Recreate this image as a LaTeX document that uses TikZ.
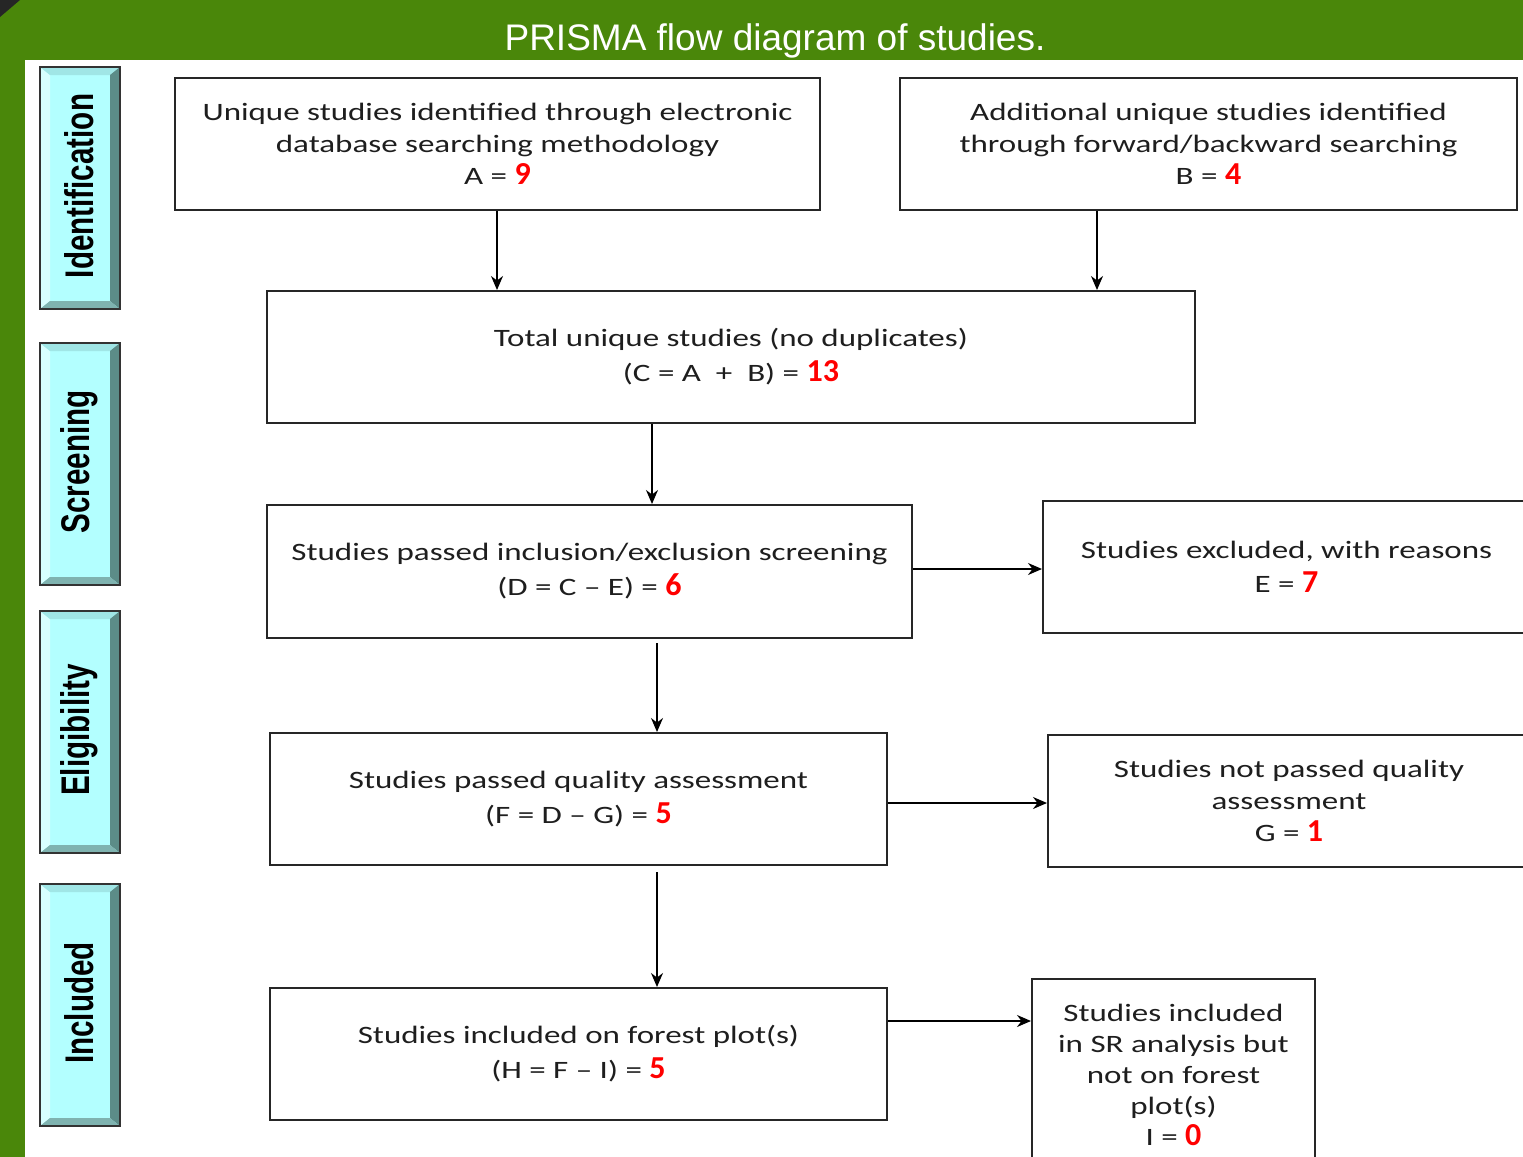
\documentclass[tikz,border=0pt]{standalone}
\usepackage{fontspec}
\usepackage{graphicx}
\usetikzlibrary{arrows.meta}
\setmainfont{Carlito}
\newfontfamily\boxfont[FakeStretch=1.32, Ligatures=TeX]{Carlito}
\newfontfamily\numfont[BoldFont={Carlito Bold}, BoldItalicFont={Carlito Bold Italic}]{Carlito}
\newfontfamily\titlefont{Liberation Sans}
\newfontfamily\sidefont{Liberation Sans}
\definecolor{prismagreen}{HTML}{4A870A}
\definecolor{sideface}{HTML}{B3FFFF}
\definecolor{sidelight}{HTML}{D8FFFF}
\definecolor{sidetop}{HTML}{A0E6E6}
\definecolor{sidedark}{HTML}{5C8C88}
\definecolor{sidebot}{HTML}{7FB3B0}
\definecolor{boxtext}{HTML}{1E1E1E}
\newcommand\rnum[1]{\textcolor{red}{\numfont\fontsize{16}{16}\selectfont\bfseries\upshape #1}}
\newcommand\sidelab[4]{%
  \fill[sideface] (40,#1) rectangle (120,#2);
  \fill[sidelight] (40,#1) -- (50,{#1+8}) -- (50,{#2-8}) -- (40,#2) -- cycle;
  \fill[sidetop] (40,#1) -- (120,#1) -- (110,{#1+8}) -- (50,{#1+8}) -- cycle;
  \fill[sidedark] (120,#1) -- (120,#2) -- (110,{#2-8}) -- (110,{#1+8}) -- cycle;
  \fill[sidebot] (40,#2) -- (120,#2) -- (110,{#2-8}) -- (50,{#2-8}) -- cycle;
  \draw[black!80, line width=1pt] (40,#1) rectangle (120,#2);
  \node[rotate=90, font=\sidefont\bfseries\fontsize{20}{20}\selectfont, text=black] (#4) at (79,{(#1+#2)/2-2}) {\scalebox{0.74}[1]{#3}};
}
\begin{document}
\begin{tikzpicture}[x=0.5pt,y=-0.5pt,
  box/.style={draw=black!85, line width=1pt, fill=white, align=center, inner sep=0pt,
    font=\boxfont\fontsize{12.5}{16}\selectfont, text=boxtext},
  conn/.style={line width=0.8pt, draw=black, -{Stealth[length=7pt,width=6pt]}}]
\clip (0,0) rectangle (1523,1157);
\useasboundingbox (0,0) rectangle (1523,1157);
% background frame
\fill[prismagreen] (0,0) rectangle (1523,60);
\fill[prismagreen] (0,0) rectangle (25,1157);
\fill[white] (25,60) rectangle (1523,1157);
\fill[black!85] (0,0) -- (20,0) -- (0,17) -- cycle;
\node[anchor=base, font=\titlefont\fontsize{18.5}{20}\selectfont, text=white] (title) at (775,50) {PRISMA flow diagram of studies.};
% side labels
\sidelab{67}{309}{Identification}{sid}
\sidelab{343}{585}{Screening}{ssc}
\sidelab{611}{853}{Eligibility}{sel}
\sidelab{884}{1126}{Included}{sin}
% boxes
\node[box, minimum width=322.5pt, minimum height=66pt] (A) at (497.5,144)
  {Unique studies identified through electronic\\ database searching methodology\\ A = \rnum{9}};
\node[box, minimum width=308.5pt, minimum height=66pt] (B) at (1208.5,144)
  {Additional unique studies identified\\ through forward/backward searching\\ B = \rnum{4}};
\node[box, minimum width=464pt, minimum height=66pt] (C) at (731,357)
  {Total unique studies (no duplicates)\\[1.5pt] (C = A\ \ +\ \ B) = \rnum{13}};
\node[box, minimum width=322.5pt, minimum height=66.5pt] (D) at (589.5,571.5)
  {Studies passed inclusion/exclusion screening\\[1.5pt] (D = C – E) = \rnum{6}};
\node[box, minimum width=243.5pt, minimum height=66pt] (E) at (1286.5,567)
  {Studies excluded, with reasons\\[1pt] E = \rnum{7}};
\node[box, minimum width=308.5pt, minimum height=66pt] (F) at (578.5,799)
  {Studies passed quality assessment\\[1.5pt] (F = D – G) = \rnum{5}};
\node[box, minimum width=241pt, minimum height=66pt] (G) at (1289,801)
  {Studies not passed quality\\ assessment\\ G = \rnum{1}};
\node[box, minimum width=308.5pt, minimum height=66pt] (H) at (578.5,1054)
  {Studies included on forest plot(s)\\[1.5pt] (H = F – I) = \rnum{5}};
\node[box, minimum width=141.5pt, minimum height=95.5pt,
  font=\boxfont\fontsize{12.5}{15.5}\selectfont] (I) at (1173.5,1074.5)
  {Studies included\\ in SR analysis but\\ not on forest\\ plot(s)\\ I = \rnum{0}};
% connectors
\draw[conn] (A.south -| 497,0) -- (C.north -| 497,0);
\draw[conn] (B.south -| 1097,0) -- (C.north -| 1097,0);
\draw[conn] (C.south -| 652,0) -- (D.north -| 652,0);
\draw[conn] (D.east |- 0,569) -- (E.west |- 0,569);
\coordinate (d1) at (657,643);
\draw[conn] (d1) -- (F.north -| d1);
\draw[conn] (F.east |- 0,803) -- (G.west |- 0,803);
\coordinate (f1) at (657,872);
\draw[conn] (f1) -- (H.north -| f1);
\draw[conn] (H.east |- 0,1021) -- (I.west |- 0,1021);
\end{tikzpicture}
\end{document}
